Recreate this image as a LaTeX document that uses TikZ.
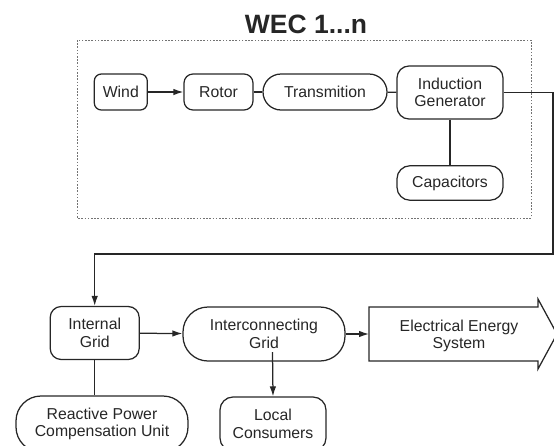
\documentclass[tikz,border=0pt]{standalone}
\usepackage{fontspec}
\setmainfont{Liberation Sans}
\usetikzlibrary{arrows.meta,calc}
\tikzset{
  box/.style={draw=black!85, line width=1.25pt, rounded corners=#1, align=center,
    inner sep=0pt, text=black!85, font=\fontsize{15.8}{17.6}\selectfont},
  box/.default=8pt,
  conn/.style={draw=black!85, line width=1.25pt},
  arr/.style={conn, -{Latex[length=10pt,width=6.5pt]}},
  frame/.style={draw=black!55, line width=0.9pt, dash pattern=on 1.6pt off 1.6pt},
}
\begin{document}
\begin{tikzpicture}[x=1pt,y=-1pt]
\useasboundingbox (0,0) rectangle (554,445);
\clip (0,0) rectangle (554,445);
% title and frame
\node[font=\fontsize{26.5}{30}\bfseries\selectfont, text=black!85] (title) at (306,24) {WEC 1...n};
\draw[frame] (77,40) rectangle (531,218);
% top row
\node[box=7pt, minimum width=53pt, minimum height=36pt] (wind) at (120.8,92) {Wind};
\node[box=9pt, minimum width=69pt, minimum height=36pt] (rotor) at (218.5,92) {Rotor};
\node[box=18pt, minimum width=124pt, minimum height=36pt] (trans) at (325,92) {Transmition};
\node[box=12pt, minimum width=106pt, minimum height=53pt] (ig) at (450,92.5) {Induction\\Generator};
\node[box=13pt, minimum width=106pt, minimum height=34.5pt] (cap) at (450,183) {Capacitors};
% bottom row
\node[box=11pt, minimum width=89pt, minimum height=53pt] (igrid) at (94.7,333) {Internal\\Grid};
\node[box=25pt, minimum width=162pt, minimum height=54pt] (icg) at (264,334) {Interconnecting\\Grid};
\node[box=25pt, minimum width=172pt, minimum height=56pt] (rpc) at (102,424) {Reactive Power\\Compensation Unit};
\node[box=13pt, minimum width=106pt, minimum height=54pt] (lc) at (273,424) {Local\\Consumers};
% energy system arrow
\draw[conn, line join=miter] (369,307) -- (538,307) -- (538,299) -- (557,334) -- (538,369) -- (538,361) -- (369,361) -- cycle;
\node[align=center, text=black!85, font=\fontsize{15.8}{17.6}\selectfont] (ees) at (459,336) {Electrical Energy\\System};
\coordinate (eesin) at (369,334);
\coordinate (c1) at (553,92.5);
\coordinate (c2) at (553,254);
\coordinate (c3) at (94.7,254);
\coordinate (lcs) at (272.5,352);
% connectors
\draw[arr] (wind) -- (rotor);
\draw[conn] (rotor) -- (trans);
\draw[conn] (trans) -- (ig);
\draw[conn] (ig) -- (cap);
\draw[arr] (ig.east) -- (c1) -- (c2) -- (c3) -- (igrid.north);
\draw[arr] (igrid) -- (icg);
\draw[arr] (icg.east) -- (eesin);
\draw[conn] (igrid.south) -- (igrid.south |- rpc.north);
\draw[arr] (lcs) -- (lc.north);
\end{tikzpicture}
\end{document}
